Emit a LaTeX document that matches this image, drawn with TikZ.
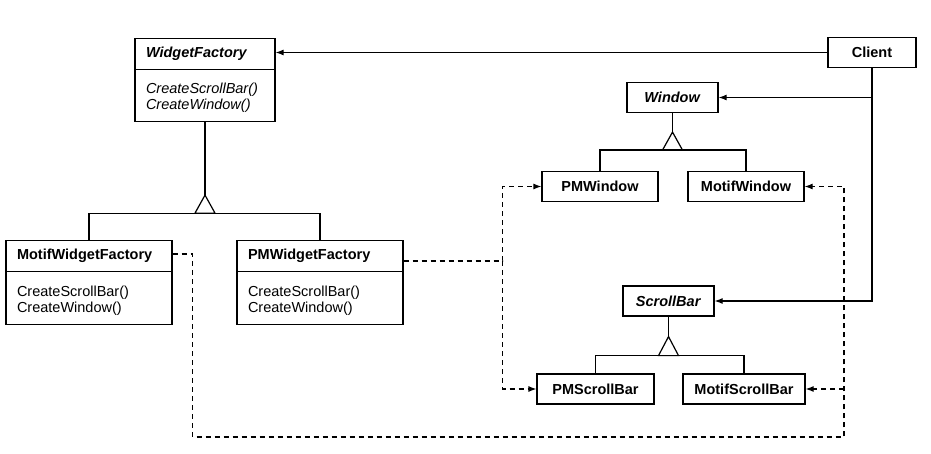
\documentclass[tikz,border=0pt]{standalone}
\usepackage{fontspec}
\setmainfont{Liberation Sans}
\usetikzlibrary{shapes,arrows.meta}

\begin{document}
\begin{tikzpicture}[x=1pt,y=-1pt,
  every node/.style={font=\fontsize{14.5}{16}\selectfont, line width=1.2pt},
  classbox/.style={draw, shape=rectangle split, rectangle split parts=2, align=left, inner xsep=11pt, inner ysep=8pt},
  plainbox/.style={draw, font=\fontsize{14.5}{16}\selectfont\bfseries, minimum height=30pt, inner xsep=2pt},
  uses/.style={line width=1.2pt, -{Latex[length=8pt,width=6pt]}},
  creates/.style={uses, dash pattern=on 5pt off 4pt}]
\useasboundingbox (0,0) rectangle (931,454);

% classes
\node[plainbox, minimum width=88pt] (client) at (872,52.5) {Client};
\node[classbox, text width=118pt, anchor=north] (wf) at (205,38) {\textbf{\textit{WidgetFactory}}\nodepart{second}\rule{0pt}{16pt}\textit{CreateScrollBar()}\\\textit{CreateWindow()}};
\node[classbox, text width=144pt, anchor=north] (mwf) at (89,240) {\textbf{MotifWidgetFactory}\nodepart{second}\rule{0pt}{17pt}CreateScrollBar()\\CreateWindow()};
\node[classbox, text width=144pt, anchor=north] (pwf) at (320,240) {\textbf{PMWidgetFactory}\nodepart{second}\rule{0pt}{17pt}CreateScrollBar()\\CreateWindow()};
\node[plainbox, minimum width=91pt] (win) at (672.5,97.5) {\textit{Window}};
\node[plainbox, minimum width=116pt] (pwin) at (600,186.5) {PMWindow};
\node[plainbox, minimum width=116pt] (mwin) at (746,186.5) {MotifWindow};
\node[plainbox, minimum width=91pt] (scroll) at (668.5,301) {\textit{ScrollBar}};
\node[plainbox, minimum width=117pt] (pscroll) at (595.5,389) {PMScrollBar};
\node[plainbox, minimum width=122pt] (mscroll) at (744,389) {MotifScrollBar};

% inheritance
\draw[line width=1.2pt] (wf.south) -- ++(0,73) coordinate (wftip);
\draw[line width=1.2pt] (wftip) -- ++(-10,18) -- ++(20,0) -- cycle;
\draw[line width=1.2pt] (mwf.north) |- ([yshift=-18pt]wftip) -| (pwf.north);
\draw[line width=1.2pt] (win.south) -- ++(0,19) coordinate (wintip);
\draw[line width=1.2pt] (wintip) -- ++(-10,18) -- ++(20,0) -- cycle;
\draw[line width=1.2pt] (pwin.north) |- ([yshift=-18pt]wintip) -| (mwin.north);
\draw[line width=1.2pt] (scroll.south) -- ++(0,20) coordinate (scrolltip);
\draw[line width=1.2pt] (scrolltip) -- ++(-10,19) -- ++(20,0) -- cycle;
\draw[line width=1.2pt] (pscroll.north) |- ([yshift=-19pt]scrolltip) -| (mscroll.north);

% client uses
\draw[uses] (client.west) -- (client.west -| wf.east);
\draw[uses] (client.south |- win.east) -- (win.east);
\draw[uses] (client.south) |- (scroll.east);

% factories create
\coordinate (mright) at (844,437);
\draw[creates] ([yshift=-14pt]mwf.north east) -- ++(20,0) |- (mright) |- (mwin.east);
\draw[creates] (mright |- mscroll.east) -- (mscroll.east);
\draw[creates] ([yshift=-21pt]pwf.north east) -- ++(99,0) coordinate (pmrail) |- (pwin.west);
\draw[creates] (pmrail) |- (pscroll.west);
\end{tikzpicture}
\end{document}
